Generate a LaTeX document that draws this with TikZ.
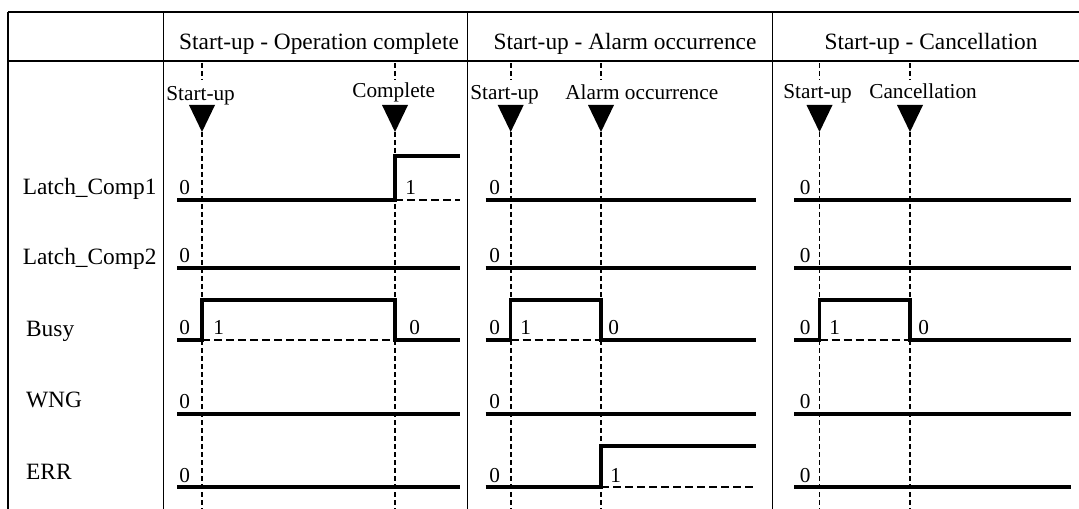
\documentclass[tikz,border=0pt]{standalone}
\usepackage{fontspec}
\setmainfont{Liberation Serif}
\begin{document}
\begin{tikzpicture}[
  x=0.2mm, y=-0.2mm,
  grid/.style={line width=0.8pt},
  sig/.style={line width=2pt},
  lowdash/.style={line width=1.4pt, dash pattern=on 1.6mm off 0.8mm},
  evt/.style={line width=1.1pt, dash pattern=on 1mm off 0.6mm},
  hdr/.style={font=\fontsize{13.3}{16}\selectfont, inner sep=0pt},
  lbl/.style={font=\fontsize{12.1}{14}\selectfont, inner sep=0pt},
]
  \useasboundingbox (0,0) rectangle (1079,509);

  % Table frame
  \draw[grid] (8,12) -- (1079,12);
  \draw[grid] (8,61) -- (1079,61);
  \foreach \cx in {8,163.5,467.5,772.5}
    \draw[grid] (\cx,12) -- (\cx,509);

  % Column headers
  \node[hdr, anchor=base] (h1) at (319,50) {Start-up - Operation complete};
  \node[hdr, anchor=base] (h2) at (625,50) {Start-up - Alarm occurrence};
  \node[hdr, anchor=base] (h3) at (931,50) {Start-up - Cancellation};

  % Row labels
  \node[hdr, anchor=base west] (rL1)  at (22.4,195) {Latch\_Comp1};
  \node[hdr, anchor=base west] (rL2)  at (22.4,265) {Latch\_Comp2};
  \node[hdr, anchor=base west] (rBsy) at (25.8,337) {Busy};
  \node[hdr, anchor=base west] (rWng) at (25.8,408) {WNG};
  \node[hdr, anchor=base west] (rErr) at (25.8,480) {ERR};

  % Event markers
  \foreach \ex in {202,395,510.7,601,819.5,910} {
    \draw[evt] (\ex,63) -- (\ex,80);
    \draw[evt] (\ex,132) -- (\ex,509);
    \fill ({\ex-13},105) -- ({\ex+13},105) -- (\ex,132) -- cycle;
  }
  \node[lbl, anchor=base west] (eS1) at (166,101) {Start-up};
  \node[lbl, anchor=base west] (eC1) at (352,98)  {Complete};
  \node[lbl, anchor=base west] (eS2) at (470,100) {Start-up};
  \node[lbl, anchor=base west] (eA2) at (565,100) {Alarm occurrence};
  \node[lbl, anchor=base west] (eS3) at (783,99)  {Start-up};
  \node[lbl, anchor=base west] (eC3) at (869,99)  {Cancellation};

  % Initial levels
  \foreach \zx [count=\i] in {179,489,799.5}
    \foreach \zy [count=\j] in {200,268,340,414,487}
      \node[lbl, anchor=base west] (z\i\j) at (\zx,\zy-5) {0};

  % Panel 1: start-up -> complete
  \draw[sig] (177,200) -- (395,200) |- (459.7,156);
  \draw[lowdash] (395,200) -- (459.7,200);
  \node[lbl, anchor=base west] (v1L) at (405,195) {1};
  \draw[sig] (177,268) -- (459.7,268);
  \draw[sig] (177,340) -- (202,340) -- (202,300) -- (395,300) -- (395,340) -- (459.7,340);
  \draw[lowdash] (202,340) -- (395,340);
  \node[lbl, anchor=base west] (v1B) at (213,335) {1};
  \node[lbl, anchor=base west] (v1b) at (409,335) {0};
  \draw[sig] (177,414) -- (459.7,414);
  \draw[sig] (177,487) -- (459.7,487);

  % Panel 2: start-up -> alarm
  \draw[sig] (485.5,200) -- (755.5,200);
  \draw[sig] (485.5,268) -- (755.5,268);
  \draw[sig] (485.5,340) -- (510.7,340) -- (510.7,300) -- (601,300) -- (601,340) -- (755.5,340);
  \draw[lowdash] (510.7,340) -- (601,340);
  \node[lbl, anchor=base west] (v2B) at (520,335) {1};
  \node[lbl, anchor=base west] (v2b) at (608,335) {0};
  \draw[sig] (485.5,414) -- (755.5,414);
  \draw[sig] (485.5,487) -- (601,487) |- (755.5,446);
  \draw[lowdash] (601,487) -- (755.5,487);
  \node[lbl, anchor=base west] (v2E) at (610,482) {1};

  % Panel 3: start-up -> cancellation
  \draw[sig] (794.4,200) -- (1071,200);
  \draw[sig] (794.4,268) -- (1071,268);
  \draw[sig] (794.4,340) -- (819.5,340) -- (819.5,300) -- (910,300) -- (910,340) -- (1071,340);
  \draw[lowdash] (819.5,340) -- (910,340);
  \node[lbl, anchor=base west] (v3B) at (829,335) {1};
  \node[lbl, anchor=base west] (v3b) at (918,335) {0};
  \draw[sig] (794.4,414) -- (1071,414);
  \draw[sig] (794.4,487) -- (1071,487);
\end{tikzpicture}
\end{document}
